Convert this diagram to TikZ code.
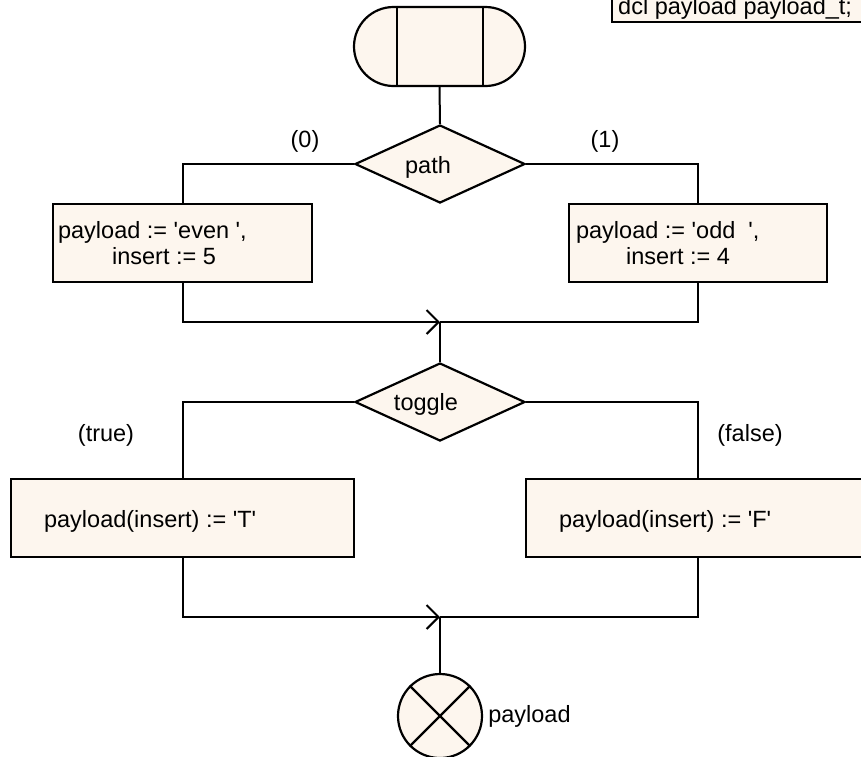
\documentclass[tikz,border=0pt]{standalone}
\usepackage{fontspec}
\setmainfont{Liberation Sans}[Ligatures=TeXOff]
\usetikzlibrary{shapes.geometric,shapes.misc,arrows.meta,calc}
\definecolor{boxfill}{RGB}{253,246,238}
\begin{document}
\begin{tikzpicture}[x=1pt,y=-1pt,
  every node/.style={font=\fontsize{23.5}{26}\selectfont},
  flowline/.style={line width=2pt},
  shapeline/.style={draw, line width=2.2pt, fill=boxfill},
  terminal/.style={shapeline, rounded rectangle, minimum width=171pt, minimum height=79pt, inner sep=0pt},
  decision/.style={shapeline, diamond, minimum width=170pt, minimum height=78pt, inner sep=0pt},
  task/.style={shapeline, rectangle, inner sep=0pt},
  stopper/.style={shapeline, circle, minimum size=84pt, inner sep=0pt},
  caption/.style={inner sep=0pt},
  merge/.style={-{Straight Barb[length=12pt,width=24pt]}},
]
\clip (0,0) rectangle (861,756);
\useasboundingbox (0,0) rectangle (861,756);

% declaration box in the corner
\node[task, anchor=south west, minimum width=270pt, minimum height=40pt] (dcl) at (611,23) {};
\node[caption, anchor=west] (dcltext) at (618,8) {dcl payload payload\_t;};

% start symbol
\node[terminal] (start) at (439.5,46.5) {};
\draw[line width=2.2pt] ($(start.north)+(-42.5,0)$) -- ($(start.south)+(-42.5,0)$);
\draw[line width=2.2pt] ($(start.north)+(43.5,0)$) -- ($(start.south)+(43.5,0)$);

% first decision
\node[decision] (path) at (440,164) {};
\node[caption] (pathtext) at (428,167) {path};
\node[caption] (zero) at (305,141) {(0)};
\node[caption] (one) at (605,141) {(1)};

\node[task, minimum width=259pt, minimum height=78pt] (even) at (182.5,243) {};
\node[caption, anchor=west, align=left] (eventext) at ([xshift=6pt]even.west)
  {payload := 'even ',\\\hspace*{54pt}insert := 5};
\node[task, minimum width=258pt, minimum height=78pt] (odd) at (698,243) {};
\node[caption, anchor=west, align=left] (oddtext) at ([xshift=8pt]odd.west)
  {payload := 'odd\ \ ',\\\hspace*{50pt}insert := 4};

% second decision
\node[decision] (toggle) at (440,402) {};
\node[caption] (toggletext) at (426,404) {toggle};
\node[caption] (truelbl) at (106,435) {(true)};
\node[caption] (falselbl) at (750,435) {(false)};

\node[task, minimum width=343pt, minimum height=78pt] (setT) at (182.5,518) {};
\node[caption, anchor=west] (setTtext) at ([xshift=34pt,yshift=-3pt]setT.west) {payload(insert) := 'T'};
\node[task, minimum width=343pt, minimum height=78pt] (setF) at (697.5,518) {};
\node[caption, anchor=west] (setFtext) at ([xshift=34pt,yshift=-3pt]setF.west) {payload(insert) := 'F'};

% end symbol
\node[stopper] (stop) at (440,716) {};
\draw[line width=2.2pt] (stop.north west) -- (stop.south east);
\draw[line width=2.2pt] (stop.north east) -- (stop.south west);
\node[caption, anchor=west] (stoptext) at ([xshift=5pt]stop.east) {payload};

% connectors
\coordinate (join1) at (440,322);
\coordinate (join2) at (440,617);
\draw[flowline] (start.south) -- (path.north);
\draw[flowline] (path.west) -| (even.north);
\draw[flowline] (path.east) -| (odd.north);
\draw[flowline, merge] (even.south) |- (join1);
\draw[flowline] (odd.south) |- (join1);
\draw[flowline] (join1) -- (toggle.north);
\draw[flowline] (toggle.west) -| (setT.north);
\draw[flowline] (toggle.east) -| (setF.north);
\draw[flowline, merge] (setT.south) |- (join2);
\draw[flowline] (setF.south) |- (join2);
\draw[flowline] (join2) -- (stop.north);
\end{tikzpicture}
\end{document}
